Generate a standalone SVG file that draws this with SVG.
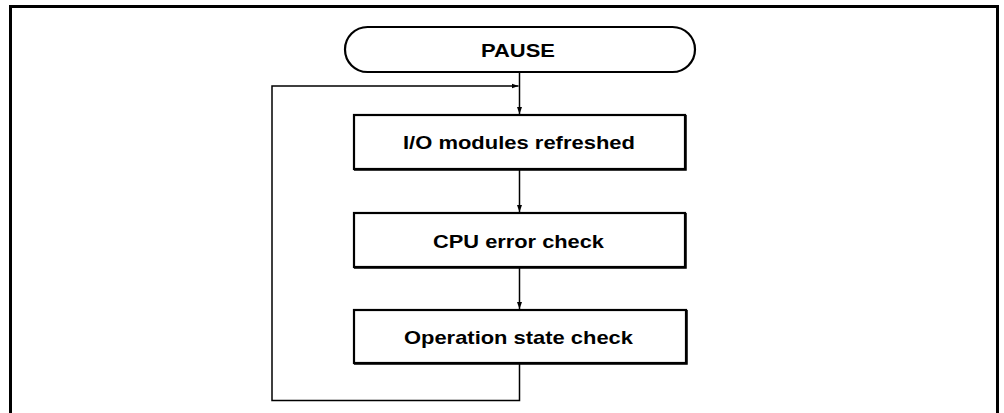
<svg xmlns="http://www.w3.org/2000/svg" width="1004" height="413" viewBox="0 0 1004 413">
<style>
.frame{fill:none;stroke:#000;stroke-width:3}
.node{fill:#fff;stroke:#000;stroke-width:2.2}
.shadow{fill:none;stroke:#000;stroke-width:2.5}
.lbl{font-family:"Liberation Sans",Arial,sans-serif;font-weight:bold;font-size:19px;fill:#000;text-anchor:middle}
.conn{fill:none;stroke:#000;stroke-width:1.5}
</style>
<defs>
<marker id="arr" markerWidth="8" markerHeight="8" refX="7" refY="4" orient="auto" markerUnits="userSpaceOnUse">
<path d="M0,1.5 L7,4 L0,6.5 Z" fill="#000"/>
</marker>
</defs>
<rect width="1004" height="413" fill="#fff"/>
<path class="frame" d="M10.5,413 L10.5,6.5 L997.5,6.5 L997.5,413"/>
<g id="connectors">
<path class="conn" d="M519.5,73 L519.5,114" marker-end="url(#arr)"/>
<path class="conn" d="M519.5,169 L519.5,212" marker-end="url(#arr)"/>
<path class="conn" d="M519.5,267 L519.5,309" marker-end="url(#arr)"/>
<path class="conn" d="M519.5,364 L519.5,400.5 L272,400.5 L272,86 L518.5,86" marker-end="url(#arr)"/>
</g>
<g id="pause">
<rect class="node" x="345" y="27" width="350" height="45" rx="22.5" ry="22.5"/>
<text class="lbl" x="518" y="57" textLength="74" lengthAdjust="spacingAndGlyphs">PAUSE</text>
</g>
<g id="io_refresh">
<rect class="node" x="354" y="115" width="331" height="54"/>
<path class="shadow" d="M685.5,115 L685.5,169.5 L354,169.5"/>
<text class="lbl" x="519" y="149" textLength="232" lengthAdjust="spacingAndGlyphs">I/O modules refreshed</text>
</g>
<g id="cpu_check">
<rect class="node" x="354" y="213" width="331" height="54"/>
<path class="shadow" d="M685.5,213 L685.5,267.5 L354,267.5"/>
<text class="lbl" x="518.5" y="248" textLength="171" lengthAdjust="spacingAndGlyphs">CPU error check</text>
</g>
<g id="op_state_check">
<rect class="node" x="354" y="310" width="332" height="53"/>
<path class="shadow" d="M686.5,310 L686.5,363.5 L354,363.5"/>
<text class="lbl" x="518.5" y="344" textLength="229" lengthAdjust="spacingAndGlyphs">Operation state check</text>
</g>
</svg>
